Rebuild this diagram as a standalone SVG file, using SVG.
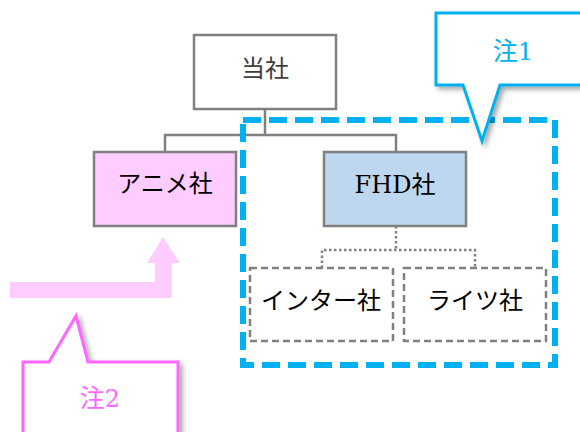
<svg xmlns="http://www.w3.org/2000/svg" width="580" height="432" viewBox="0 0 580 432">
<defs>
<style>
.t{font-family:"Liberation Serif","Noto Sans CJK JP",serif;font-size:24px;text-anchor:middle;fill:#000}
.lat{font-family:"DejaVu Serif","Noto Sans CJK JP",serif}
.dig{font-family:"DejaVu Serif",serif;font-size:24px}
.box{stroke:#808080;stroke-width:2.5}
.dbox{fill:#fff;stroke:#808080;stroke-width:2.5;stroke-dasharray:7 4}
.ln{fill:none;stroke:#808080;stroke-width:2.5}
</style>
<filter id="sh" x="-20%" y="-20%" width="150%" height="150%">
<feDropShadow dx="3" dy="3" stdDeviation="2.5" flood-color="#000" flood-opacity="0.35"/>
</filter>
</defs>
<rect width="580" height="432" fill="#fff"/>
<g id="connectors">
<polyline class="ln" points="165,152 165,135 396,135 396,152"/>
<line class="ln" x1="265" y1="109" x2="265" y2="135"/>
<polyline class="ln" points="396,226 396,250" stroke-dasharray="2.5 2.5"/>
<polyline class="ln" points="322,268 322,250 475,250 475,268" stroke-dasharray="2.5 2.5"/>
</g>
<g id="group-frame">
<rect x="243" y="120" width="312" height="245" fill="none" stroke="#00b0f0" stroke-width="6" stroke-dasharray="18 8"/>
</g>
<g id="node-tousha">
<rect class="box" x="194" y="35" width="142" height="74" fill="#fff"/>
<text class="t" x="265" y="77" style="fill:#404040">当社</text>
</g>
<g id="node-anime">
<rect class="box" x="94" y="152" width="142" height="74" fill="#ffccff"/>
<text class="t" x="165" y="192">アニメ社</text>
</g>
<g id="node-fhd">
<rect class="box" x="324" y="152" width="142" height="74" fill="#bdd7ee"/>
<text class="t" x="395" y="193"><tspan class="lat">FHD</tspan>社</text>
</g>
<g id="node-inter">
<rect class="dbox" x="250" y="268" width="143" height="73"/>
<text class="t" x="321" y="309">インター社</text>
</g>
<g id="node-rights">
<rect class="dbox" x="404" y="268" width="142" height="73"/>
<text class="t" x="475" y="309">ライツ社</text>
</g>
<g id="pink-arrow">
<path d="M10,282 H155 V263 H147 L163,237 L180,263 H172 V298 H10 Z" fill="#ffccff"/>
</g>
<g id="note1">
<path d="M436,13 H592 V85 H500 L482,141 L463,85 H436 Z" fill="#fff" stroke="#00b0f0" stroke-width="3" filter="url(#sh)"/>
<text class="t" x="513" y="60" style="fill:#00b0f0;font-size:25px">注<tspan class="dig">1</tspan></text>
</g>
<g id="note2">
<path d="M23,362 H49 L76,316 L88,362 H178 V440 H23 Z" fill="#fff" stroke="#ff66ff" stroke-width="3" filter="url(#sh)"/>
<text class="t" x="100" y="407" style="fill:#ff66ff;font-size:25px">注<tspan class="dig">2</tspan></text>
</g>
</svg>
